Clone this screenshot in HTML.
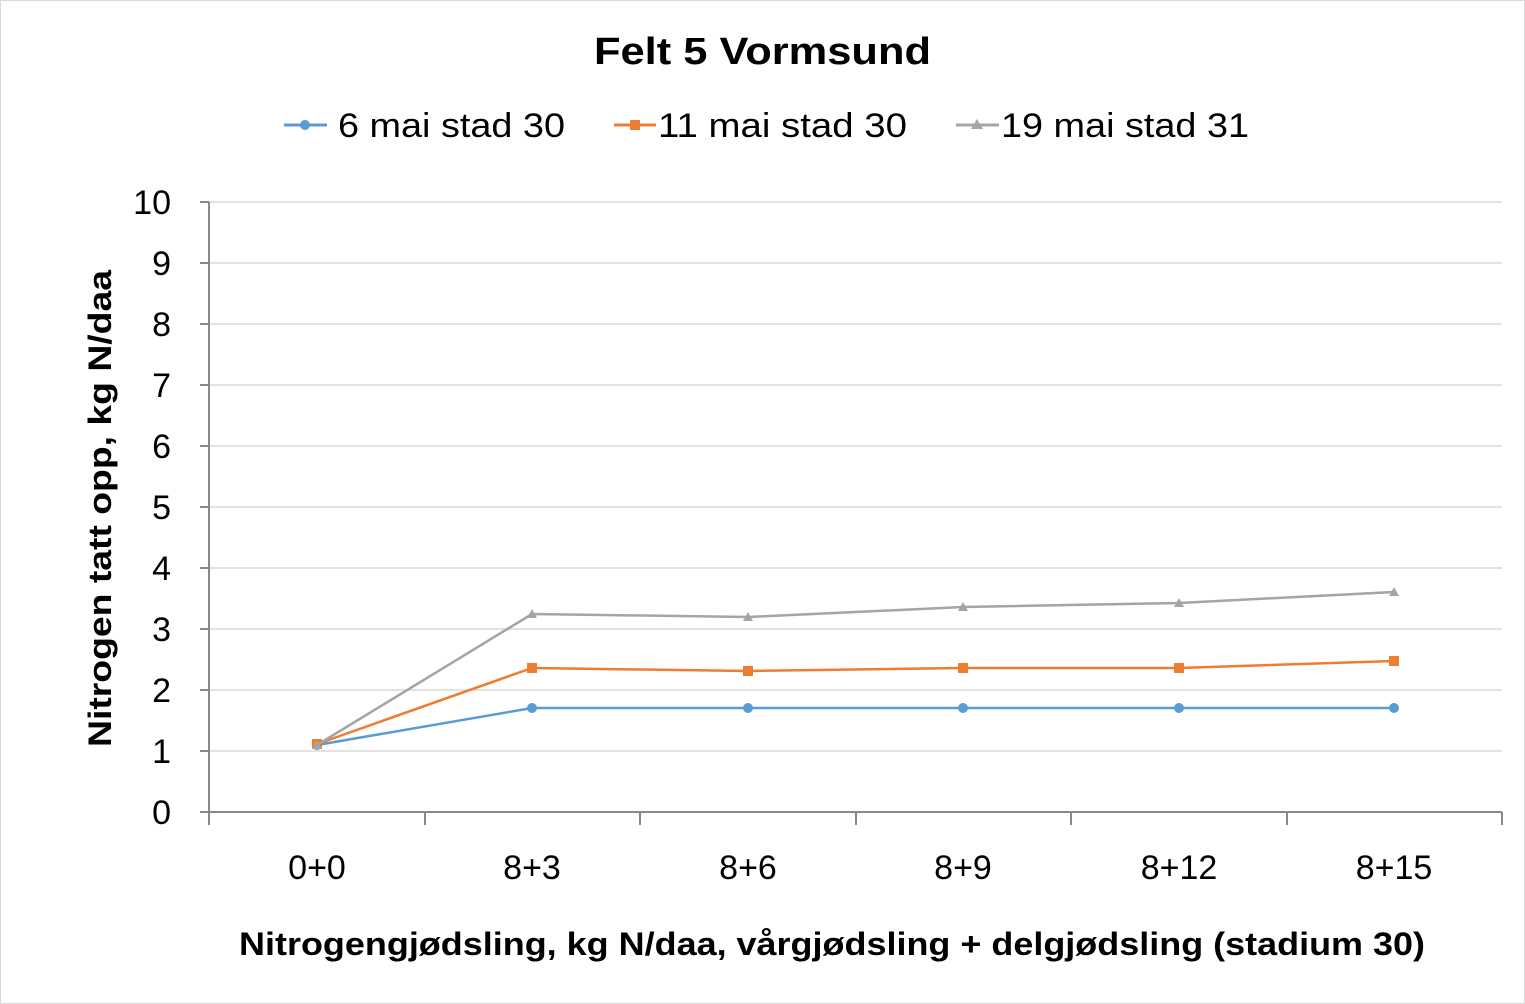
<!DOCTYPE html>
<html><head><meta charset="utf-8"><style>body{margin:0;background:#fff}svg{display:block}text{font-family:"Liberation Sans",sans-serif;fill:#000}</style></head>
<body>
<svg width="1525" height="1004" viewBox="0 0 1525 1004">
<rect x="0.5" y="0.5" width="1524" height="1003" fill="#fff" stroke="#d9d9d9"/>
<text x="594" y="64" font-size="38" font-weight="bold" textLength="337" lengthAdjust="spacingAndGlyphs">Felt 5 Vormsund</text>
<g font-size="34">
<line x1="284" y1="125" x2="327" y2="125" stroke="#5b9bd5" stroke-width="3"/><circle cx="305" cy="125" r="5" fill="#5b9bd5"/>
<text x="338" y="137" textLength="227" lengthAdjust="spacingAndGlyphs">6 mai stad 30</text>
<line x1="614" y1="125" x2="656" y2="125" stroke="#ed7d31" stroke-width="3"/><rect x="630" y="120" width="10" height="10" fill="#ed7d31"/>
<text x="658" y="137" textLength="249" lengthAdjust="spacingAndGlyphs">11 mai stad 30</text>
<line x1="956" y1="125" x2="999" y2="125" stroke="#a5a5a5" stroke-width="3"/><polygon points="977,119 983,129 971,129" fill="#a5a5a5"/>
<text x="1001" y="137" textLength="248" lengthAdjust="spacingAndGlyphs">19 mai stad 31</text>
</g>
<g stroke="#d9d9d9" stroke-width="1.5">
<line x1="209" y1="202" x2="1502" y2="202"/><line x1="209" y1="263" x2="1502" y2="263"/><line x1="209" y1="324" x2="1502" y2="324"/><line x1="209" y1="385" x2="1502" y2="385"/><line x1="209" y1="446" x2="1502" y2="446"/><line x1="209" y1="507" x2="1502" y2="507"/><line x1="209" y1="568" x2="1502" y2="568"/><line x1="209" y1="629" x2="1502" y2="629"/><line x1="209" y1="690" x2="1502" y2="690"/><line x1="209" y1="751" x2="1502" y2="751"/>
</g>
<g stroke="#888" stroke-width="2">
<line x1="209" y1="202" x2="209" y2="812"/><line x1="209" y1="812" x2="1502" y2="812"/>
<line x1="200" y1="202" x2="209" y2="202"/><line x1="200" y1="263" x2="209" y2="263"/><line x1="200" y1="324" x2="209" y2="324"/><line x1="200" y1="385" x2="209" y2="385"/><line x1="200" y1="446" x2="209" y2="446"/><line x1="200" y1="507" x2="209" y2="507"/><line x1="200" y1="568" x2="209" y2="568"/><line x1="200" y1="629" x2="209" y2="629"/><line x1="200" y1="690" x2="209" y2="690"/><line x1="200" y1="751" x2="209" y2="751"/><line x1="200" y1="812" x2="209" y2="812"/>
<line x1="209" y1="812" x2="209" y2="825"/><line x1="425" y1="812" x2="425" y2="825"/><line x1="640" y1="812" x2="640" y2="825"/><line x1="856" y1="812" x2="856" y2="825"/><line x1="1071" y1="812" x2="1071" y2="825"/><line x1="1287" y1="812" x2="1287" y2="825"/><line x1="1502" y1="812" x2="1502" y2="825"/>
</g>
<g font-size="34" text-anchor="end">
<text x="171" y="214">10</text><text x="171" y="275">9</text><text x="171" y="336">8</text><text x="171" y="397">7</text><text x="171" y="458">6</text><text x="171" y="519">5</text><text x="171" y="580">4</text><text x="171" y="641">3</text><text x="171" y="702">2</text><text x="171" y="763">1</text><text x="171" y="824">0</text>
</g>
<g font-size="34" text-anchor="middle">
<text x="317" y="879">0+0</text><text x="532" y="879">8+3</text><text x="748" y="879">8+6</text><text x="963" y="879">8+9</text><text x="1179" y="879">8+12</text><text x="1394" y="879">8+15</text>
</g>
<text x="239" y="955" font-size="32" font-weight="bold" textLength="1186" lengthAdjust="spacingAndGlyphs">Nitrogengjødsling, kg N/daa, vårgjødsling + delgjødsling (stadium 30)</text>
<text transform="translate(111,747) rotate(-90)" font-size="32" font-weight="bold" textLength="477" lengthAdjust="spacingAndGlyphs">Nitrogen tatt opp, kg N/daa</text>
<polyline points="317,745 532,708 748,708 963,708 1179,708 1394,708" fill="none" stroke="#5b9bd5" stroke-width="2.5"/>
<g fill="#5b9bd5"><circle cx="317" cy="745" r="5"/><circle cx="532" cy="708" r="5"/><circle cx="748" cy="708" r="5"/><circle cx="963" cy="708" r="5"/><circle cx="1179" cy="708" r="5"/><circle cx="1394" cy="708" r="5"/></g>
<polyline points="317,744 532,668 748,671 963,668 1179,668 1394,661" fill="none" stroke="#ed7d31" stroke-width="2.5"/>
<g fill="#ed7d31"><rect x="312" y="739" width="10" height="10"/><rect x="527" y="663" width="10" height="10"/><rect x="743" y="666" width="10" height="10"/><rect x="958" y="663" width="10" height="10"/><rect x="1174" y="663" width="10" height="10"/><rect x="1389" y="656" width="10" height="10"/></g>
<polyline points="317,745 532,614 748,617 963,607 1179,603 1394,592" fill="none" stroke="#a5a5a5" stroke-width="2.5"/>
<g fill="#a5a5a5"><polygon points="317,740 322,749 312,749"/><polygon points="532,609 537,618 527,618"/><polygon points="748,612 753,621 743,621"/><polygon points="963,602 968,611 958,611"/><polygon points="1179,598 1184,607 1174,607"/><polygon points="1394,587 1399,596 1389,596"/></g>
</svg>
</body></html>
